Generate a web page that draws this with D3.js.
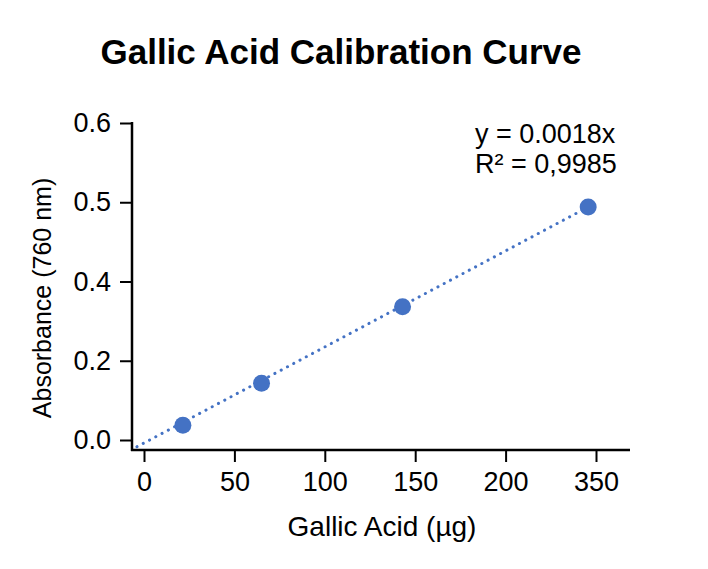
<!DOCTYPE html>
<html>
<head>
<meta charset="utf-8">
<script src="https://cdn.jsdelivr.net/npm/d3@7"></script>
<style>
  body { margin: 0; background: #fff; }
  text { font-family: "Liberation Sans", Arial, sans-serif; fill: #000; }
</style>
</head>
<body>
<div id="chart"></div>
<script>
// data
const gallicAcid = [21.5, 65, 143, 337];        // µg
const absorbance = [0.037, 0.143, 0.336, 0.494]; // A at 760 nm
const xTicks = [0, 50, 100, 150, 200, 350];
const yTicks = [0.0, 0.2, 0.4, 0.5, 0.6];
// dotted trendline endpoints (data space)
const trendX = [-3.9, 337];
const trendY = [-0.017, 0.494];
const eqLines = ["y = 0.0018x", "R² = 0,9985"];

const width = 708, height = 569;
const blue = "#4472c4";

const svg = d3.select("#chart").append("svg")
  .attr("width", width)
  .attr("height", height);

// axis ticks are evenly spaced in the source even though the labels are not
const x = d3.scaleLinear()
  .domain(xTicks)
  .range(xTicks.map((d, i) => 144 + i * 90.4));
const y = d3.scaleLinear()
  .domain(yTicks)
  .range(yTicks.map((d, i) => 440 - i * 79.25));

const axisBottomY = 450, axisLeftX = 132;

// x axis
const gx = svg.append("g")
  .attr("transform", `translate(0,${axisBottomY})`)
  .call(d3.axisBottom(x).tickValues(xTicks).tickFormat(d3.format("d")).tickSize(12).tickPadding(10));
gx.select(".domain").remove();
gx.selectAll(".tick line").attr("stroke", "#000").attr("stroke-width", 2);
gx.selectAll(".tick text").style("font-size", "27px");
svg.append("line")
  .attr("x1", axisLeftX - 1).attr("x2", 630)
  .attr("y1", axisBottomY).attr("y2", axisBottomY)
  .attr("stroke", "#000").attr("stroke-width", 2.5);

// y axis
const gy = svg.append("g")
  .attr("transform", `translate(${axisLeftX},0)`)
  .call(d3.axisLeft(y).tickValues(yTicks).tickFormat(d3.format(".1f")).tickSize(12).tickPadding(9));
gy.select(".domain").remove();
gy.selectAll(".tick line").attr("stroke", "#000").attr("stroke-width", 2);
gy.selectAll(".tick text").style("font-size", "27px");
svg.append("line")
  .attr("x1", axisLeftX).attr("x2", axisLeftX)
  .attr("y1", y(0.6) - 1).attr("y2", axisBottomY + 1)
  .attr("stroke", "#000").attr("stroke-width", 2.5);

// trendline
const line = d3.line().x(d => x(d[0])).y(d => y(d[1]));
svg.append("path")
  .datum(d3.zip(trendX, trendY))
  .attr("d", line)
  .attr("fill", "none")
  .attr("stroke", blue)
  .attr("stroke-width", 3)
  .attr("stroke-linecap", "round")
  .attr("stroke-dasharray", "0.1 7");

// points
svg.append("g")
  .selectAll("circle")
  .data(d3.zip(gallicAcid, absorbance))
  .join("circle")
  .attr("cx", d => x(d[0]))
  .attr("cy", d => y(d[1]))
  .attr("r", 8.5)
  .attr("fill", blue);

// equation
svg.append("g")
  .selectAll("text")
  .data(eqLines)
  .join("text")
  .attr("x", 475)
  .attr("y", (d, i) => 143 + i * 30)
  .style("font-size", "27px")
  .text(d => d);

// title
svg.append("text")
  .attr("x", 341).attr("y", 64)
  .attr("text-anchor", "middle")
  .style("font-size", "35px")
  .style("font-weight", "bold")
  .text("Gallic Acid Calibration Curve");

// axis titles
svg.append("text")
  .attr("x", 382).attr("y", 536)
  .attr("text-anchor", "middle")
  .style("font-size", "28px")
  .text("Gallic Acid (µg)");

svg.append("text")
  .attr("transform", "translate(51,298) rotate(-90)")
  .attr("text-anchor", "middle")
  .style("font-size", "25px")
  .text("Absorbance (760 nm)");
</script>
</body>
</html>
